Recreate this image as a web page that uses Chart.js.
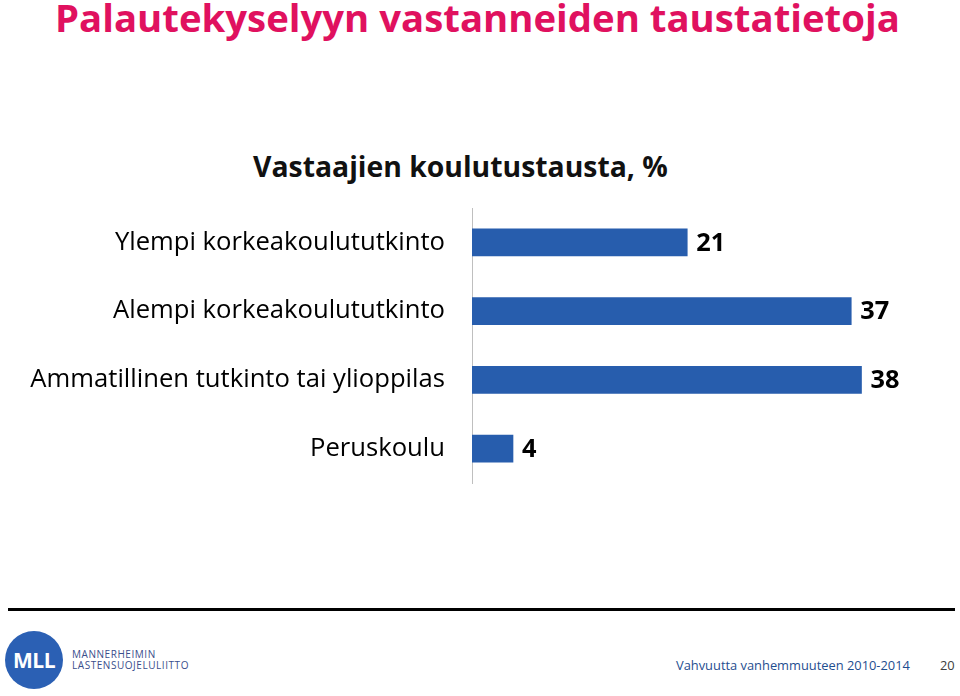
<!DOCTYPE html>
<html>
<head>
<meta charset="utf-8">
<script src="https://cdn.jsdelivr.net/npm/chart.js@4"></script>
<style>
  html, body { margin: 0; padding: 0; background: #fff; width: 960px; height: 696px; overflow: hidden; }
  body { position: relative; font-family: "Open Sans", sans-serif; }
  .txt { position: absolute; white-space: nowrap; line-height: 1; }
  #title { left: 55px; font-weight: 700; color: #E0115F; }
  #subtitle { left: 253px; font-weight: 700; color: #111; }
  #chartWrap { position: absolute; left: 0; top: 188px; width: 960px; height: 315px; }
  #rule { position: absolute; left: 8px; top: 608px; width: 947px; height: 3px; background: #000; }
  #logo { position: absolute; left: 5px; top: 631px; width: 58px; height: 58px; border-radius: 50%; background: #2B60B4; color: #fff; font-weight: 700; font-size: 21px; line-height: 58px; text-align: center; letter-spacing: -0.5px; }
  #logoText { position: absolute; left: 72px; top: 649px; font-size: 10px; line-height: 10.5px; color: #3A4E8C; letter-spacing: 0.55px; }
  #footText { left: 676px; color: #1F4E8F; }
  #pageNo { left: 940px; color: #404040; }
</style>
</head>
<body>
<div id="title" class="txt">Palautekyselyyn vastanneiden taustatietoja</div>
<div id="subtitle" class="txt">Vastaajien koulutustausta, %</div>
<div id="chartWrap"><canvas id="c" width="960" height="315"></canvas></div>
<div id="rule"></div>
<div id="logo">MLL</div>
<div id="logoText">MANNERHEIMIN<br>LASTENSUOJELULIITTO</div>
<div id="footText" class="txt">Vahvuutta vanhemmuuteen 2010-2014</div>
<div id="pageNo" class="txt">20</div>
<script>
const categories = [
  "Ylempi korkeakoulututkinto",
  "Alempi korkeakoulututkinto",
  "Ammatillinen tutkinto tai ylioppilas",
  "Peruskoulu"
];
const values = [21, 37, 38, 4];

const FAMILY = '"Open Sans", sans-serif';
const mctx = document.createElement('canvas').getContext('2d');
function fitSize(text, weight, targetW) {
  mctx.font = weight + ' 100px ' + FAMILY;
  return 100 * targetW / mctx.measureText(text).width;
}
function placeText(id, targetW, baseline) {
  const el = document.getElementById(id);
  const w = getComputedStyle(el).fontWeight;
  const fs = fitSize(el.textContent, w, targetW);
  el.style.fontSize = fs + 'px';
  el.style.top = (baseline - 0.888 * fs) + 'px';
}
placeText('title', 845, 32);
placeText('subtitle', 415, 177);
placeText('footText', 234, 670);
const pn = document.getElementById('pageNo');
const footFs = parseFloat(document.getElementById('footText').style.fontSize);
pn.style.fontSize = footFs + 'px';
pn.style.top = (670 - 0.888 * footFs) + 'px';

const labelSize = fitSize(categories[2], '400', 415);
const valueSize = fitSize('38', '700', 29);

const valueLabels = {
  id: 'valueLabels',
  afterDatasetsDraw(chart) {
    const ctx = chart.ctx;
    const meta = chart.getDatasetMeta(0);
    ctx.save();
    ctx.font = '700 ' + valueSize + 'px ' + FAMILY;
    ctx.fillStyle = '#000';
    ctx.textAlign = 'left';
    ctx.textBaseline = 'middle';
    meta.data.forEach((bar, i) => {
      ctx.fillText(String(values[i]), bar.x + 9, bar.y + 1);
    });
    ctx.restore();
  }
};

new Chart(document.getElementById('c'), {
  type: 'bar',
  data: {
    labels: categories,
    datasets: [{
      data: values,
      backgroundColor: '#275DAD',
      borderWidth: 0,
      barThickness: 27
    }]
  },
  options: {
    indexAxis: 'y',
    responsive: false,
    animation: false,
    events: [],
    layout: { padding: { top: 20, bottom: 20, right: 78, left: 0 } },
    plugins: { legend: { display: false }, tooltip: { enabled: false } },
    scales: {
      x: { display: false, min: 0, max: 40 },
      y: {
        grid: { display: true, drawOnChartArea: false, drawTicks: true, tickLength: 27, color: 'rgba(0,0,0,0)' },
        border: { display: true, color: '#BFBFBF', width: 1 },
        ticks: {
          color: '#000',
          padding: 0,
          font: { family: FAMILY, size: labelSize }
        },
        afterFit(scale) { scale.width = 472; }
      }
    }
  },
  plugins: [valueLabels]
});
</script>
</body>
</html>
